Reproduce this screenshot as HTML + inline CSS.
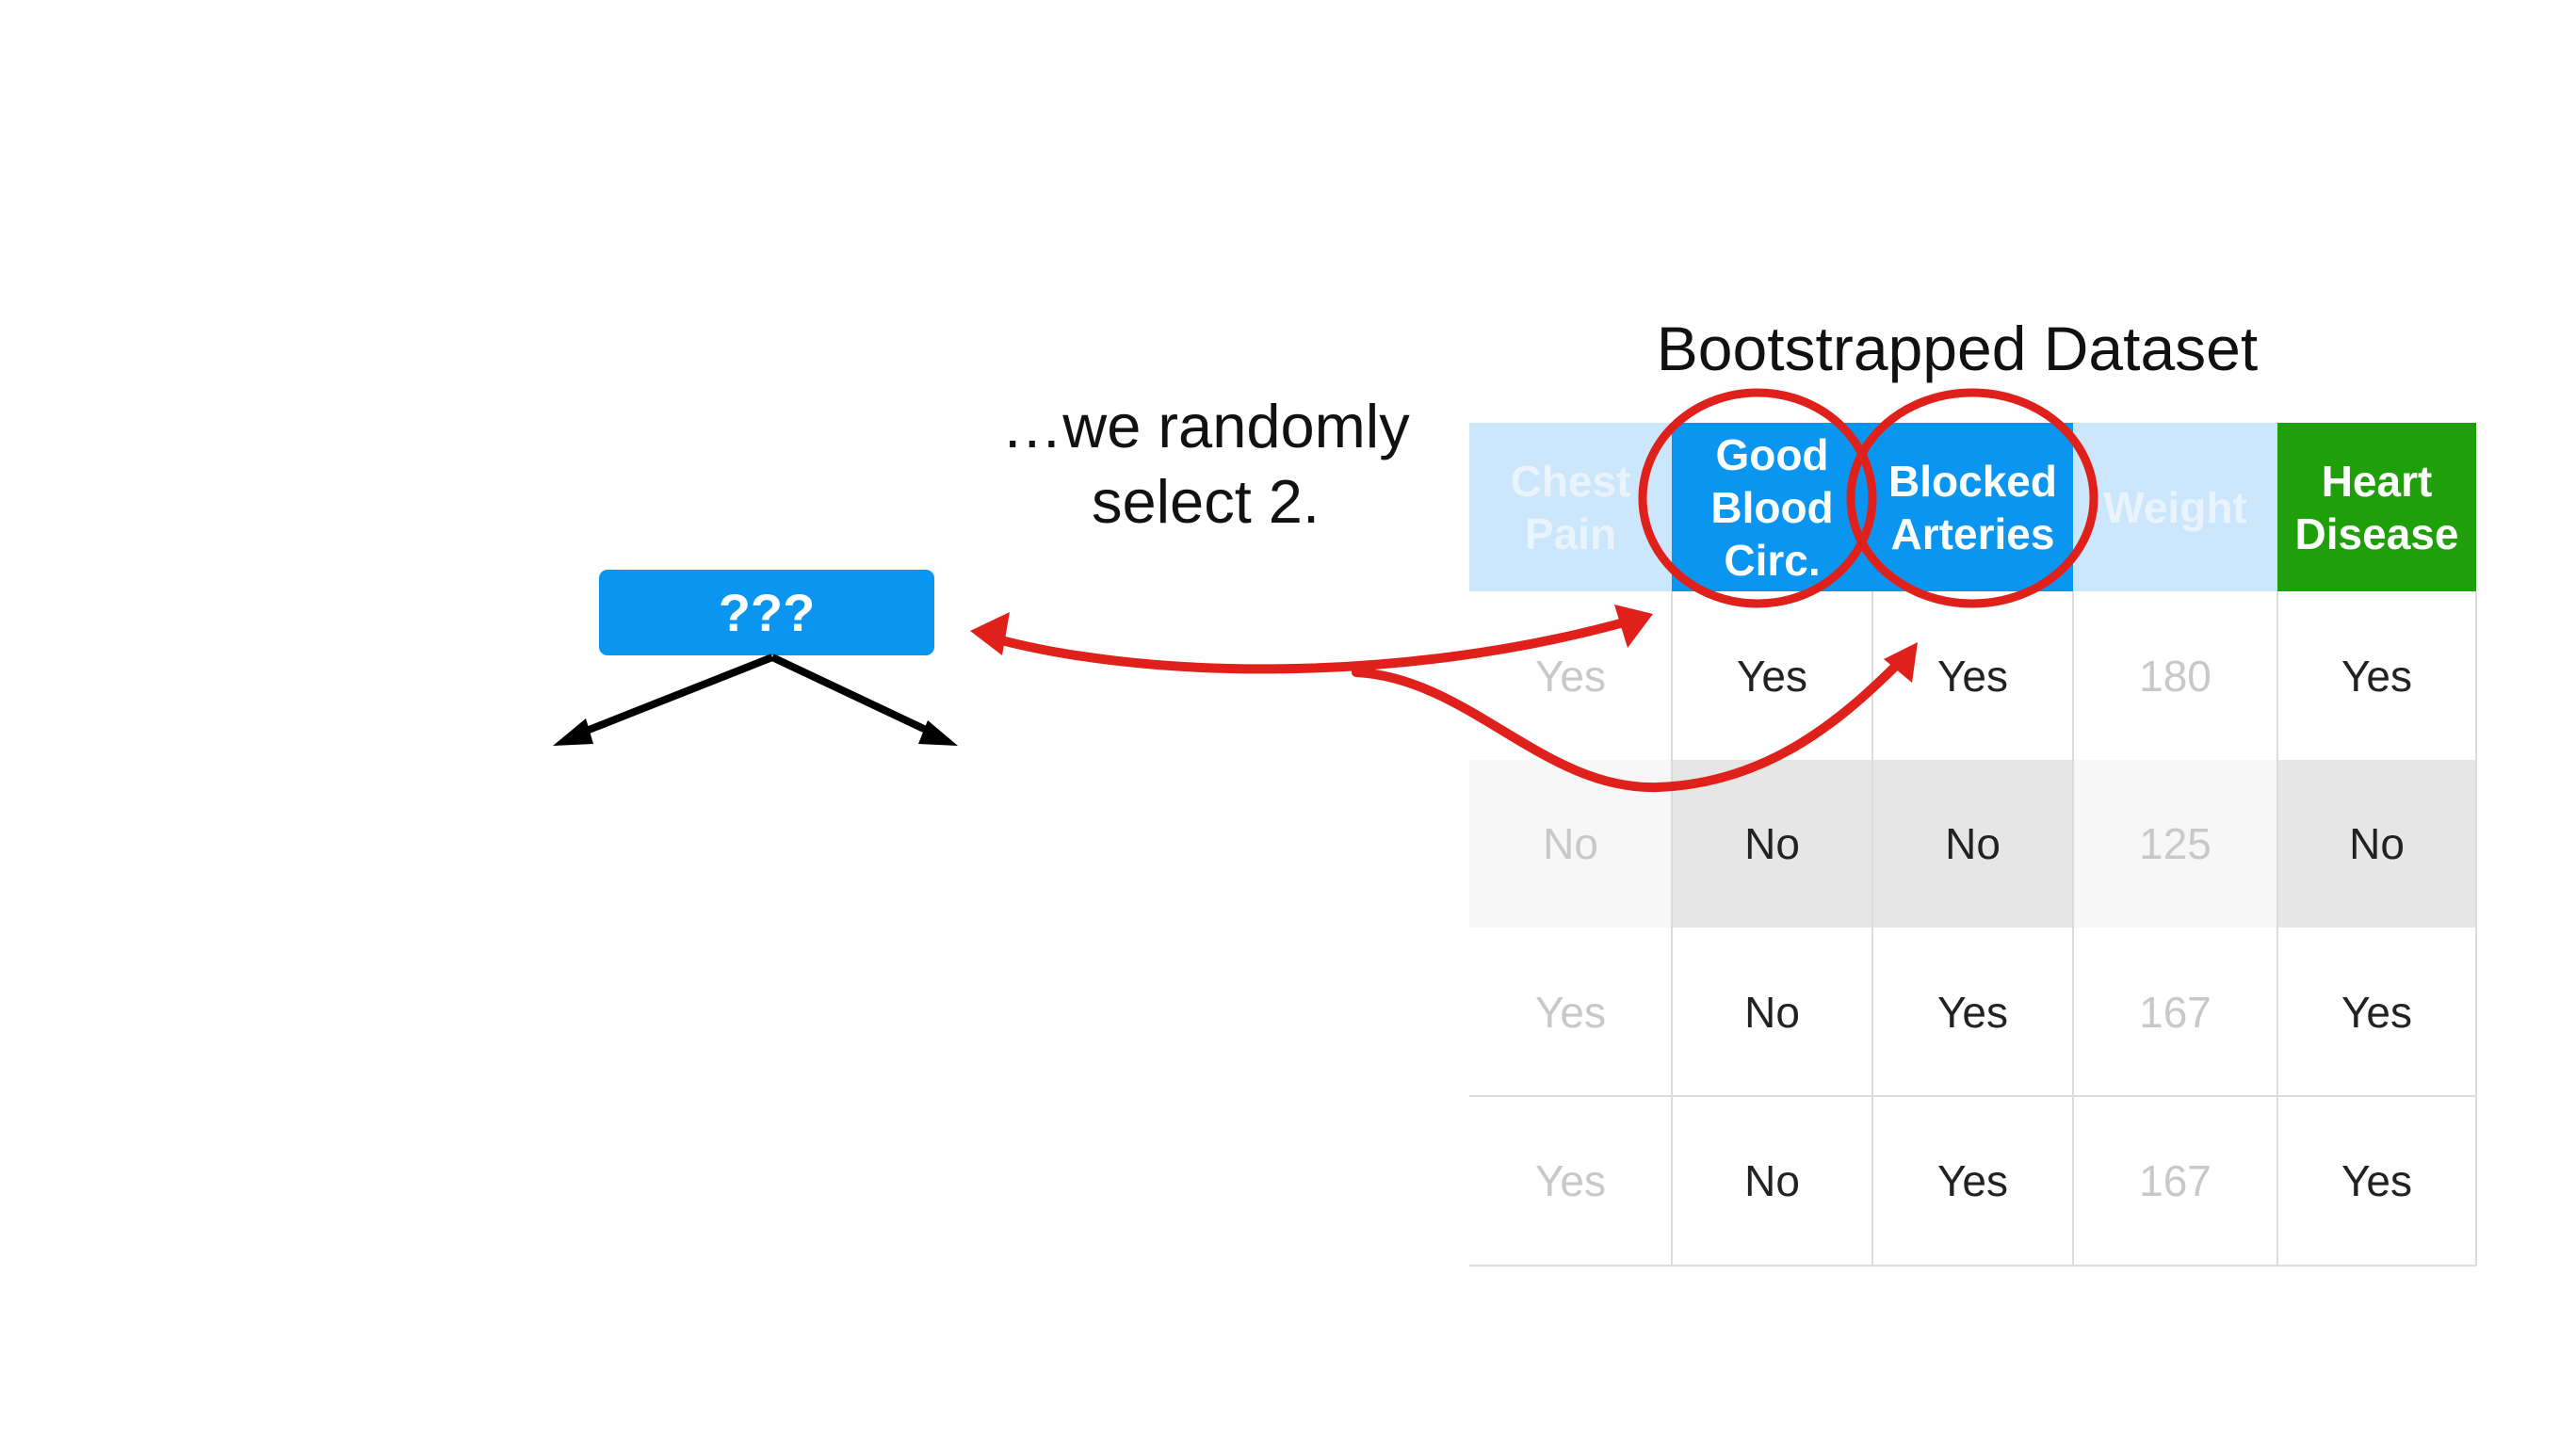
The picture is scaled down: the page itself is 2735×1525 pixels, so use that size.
<!DOCTYPE html>
<html><head><meta charset="utf-8"><style>
html,body{margin:0;padding:0;background:#fff}
body{width:2735px;height:1525px;position:relative;overflow:hidden;font-family:"Liberation Sans",sans-serif}
.t{position:absolute;text-align:center;}
.c{position:absolute;display:flex;align-items:center;justify-content:center;text-align:center;font-size:46px;box-sizing:border-box}
.h{font-weight:bold;color:#fff;line-height:56px}
</style></head><body>
<div class="t" style="left:1678px;top:332px;width:800px;font-size:66px;color:#111">Bootstrapped Dataset</div>
<div class="t" style="left:970px;top:413px;width:620px;font-size:65px;line-height:80px;color:#111">…we randomly<br>select 2.</div>
<div class="c" style="left:636px;top:605px;width:356px;height:91px;background:#0a96f0;border-radius:9px;color:#fff;font-weight:bold;font-size:56px">???</div>

<div class="c h" style="left:1560px;top:449px;width:215px;height:179px;background:#cce6fb;color:#e9f4fe">Chest<br>Pain</div>
<div class="c h" style="left:1775px;top:449px;width:213px;height:179px;background:#0a96f0">Good<br>Blood<br>Circ.</div>
<div class="c h" style="left:1988px;top:449px;width:213px;height:179px;background:#0a96f0">Blocked<br>Arteries</div>
<div class="c h" style="left:2201px;top:449px;width:217px;height:179px;background:#cce6fb;color:#e9f4fe">Weight</div>
<div class="c h" style="left:2418px;top:449px;width:211px;height:179px;background:#1fa00a">Heart<br>Disease</div>

<div style="position:absolute;left:1560px;top:628px">
<div class="c" style="left:0;top:0;width:215px;height:179px;color:#c8c8c8">Yes</div>
<div class="c" style="left:215px;top:0;width:213px;height:179px;color:#222">Yes</div>
<div class="c" style="left:428px;top:0;width:213px;height:179px;color:#222">Yes</div>
<div class="c" style="left:641px;top:0;width:217px;height:179px;color:#c8c8c8">180</div>
<div class="c" style="left:858px;top:0;width:211px;height:179px;color:#222">Yes</div>

<div class="c" style="left:0;top:179px;width:215px;height:178px;background:#f7f7f7;color:#c8c8c8">No</div>
<div class="c" style="left:215px;top:179px;width:213px;height:178px;background:#e6e6e6;color:#222">No</div>
<div class="c" style="left:428px;top:179px;width:213px;height:178px;background:#e6e6e6;color:#222">No</div>
<div class="c" style="left:641px;top:179px;width:217px;height:178px;background:#f7f7f7;color:#c8c8c8">125</div>
<div class="c" style="left:858px;top:179px;width:211px;height:178px;background:#e6e6e6;color:#222">No</div>

<div class="c" style="left:0;top:357px;width:215px;height:179px;color:#c8c8c8">Yes</div>
<div class="c" style="left:215px;top:357px;width:213px;height:179px;color:#222">No</div>
<div class="c" style="left:428px;top:357px;width:213px;height:179px;color:#222">Yes</div>
<div class="c" style="left:641px;top:357px;width:217px;height:179px;color:#c8c8c8">167</div>
<div class="c" style="left:858px;top:357px;width:211px;height:179px;color:#222">Yes</div>

<div class="c" style="left:0;top:536px;width:215px;height:180px;color:#c8c8c8">Yes</div>
<div class="c" style="left:215px;top:536px;width:213px;height:180px;color:#222">No</div>
<div class="c" style="left:428px;top:536px;width:213px;height:180px;color:#222">Yes</div>
<div class="c" style="left:641px;top:536px;width:217px;height:180px;color:#c8c8c8">167</div>
<div class="c" style="left:858px;top:536px;width:211px;height:180px;color:#222">Yes</div>
</div>

<svg width="2735" height="1525" style="position:absolute;left:0;top:0">
<g stroke="#dcdcdc" stroke-width="2">
<line x1="1775" y1="628" x2="1775" y2="1344"/><line x1="1988" y1="628" x2="1988" y2="1344"/>
<line x1="2201" y1="628" x2="2201" y2="1344"/><line x1="2418" y1="628" x2="2418" y2="1344"/>
<line x1="2629" y1="628" x2="2629" y2="1344"/>
<line x1="1560" y1="1164" x2="2629" y2="1164"/><line x1="1560" y1="1344" x2="2629" y2="1344"/>
</g>
<ellipse cx="1866" cy="529" rx="122" ry="112" fill="none" stroke="#e0201a" stroke-width="9"/>
<ellipse cx="2094" cy="529" rx="129" ry="112" fill="none" stroke="#e0201a" stroke-width="9"/>
<g stroke="#000" stroke-width="8" fill="none">
<line x1="820" y1="698" x2="605" y2="783"/><line x1="820" y1="698" x2="1000" y2="783"/>
</g>
<polygon points="587,792 622,763 630,790" fill="#000"/>
<polygon points="1017,792 975,790 985,765" fill="#000"/>
<g stroke="#e0201a" stroke-width="10" fill="none" stroke-linecap="round">
<path d="M1045,675 C1200,720 1480,730 1735,658"/>
<path d="M1440,714 C1560,720 1640,840 1760,836 C1880,832 1960,760 2020,700"/>
</g>
<polygon points="1030,670 1072,650 1064,696" fill="#e0201a"/>
<polygon points="1755,652 1714,642 1728,688" fill="#e0201a"/>
<polygon points="2036,682 2000,700 2030,725" fill="#e0201a"/>
</svg>
</body></html>
